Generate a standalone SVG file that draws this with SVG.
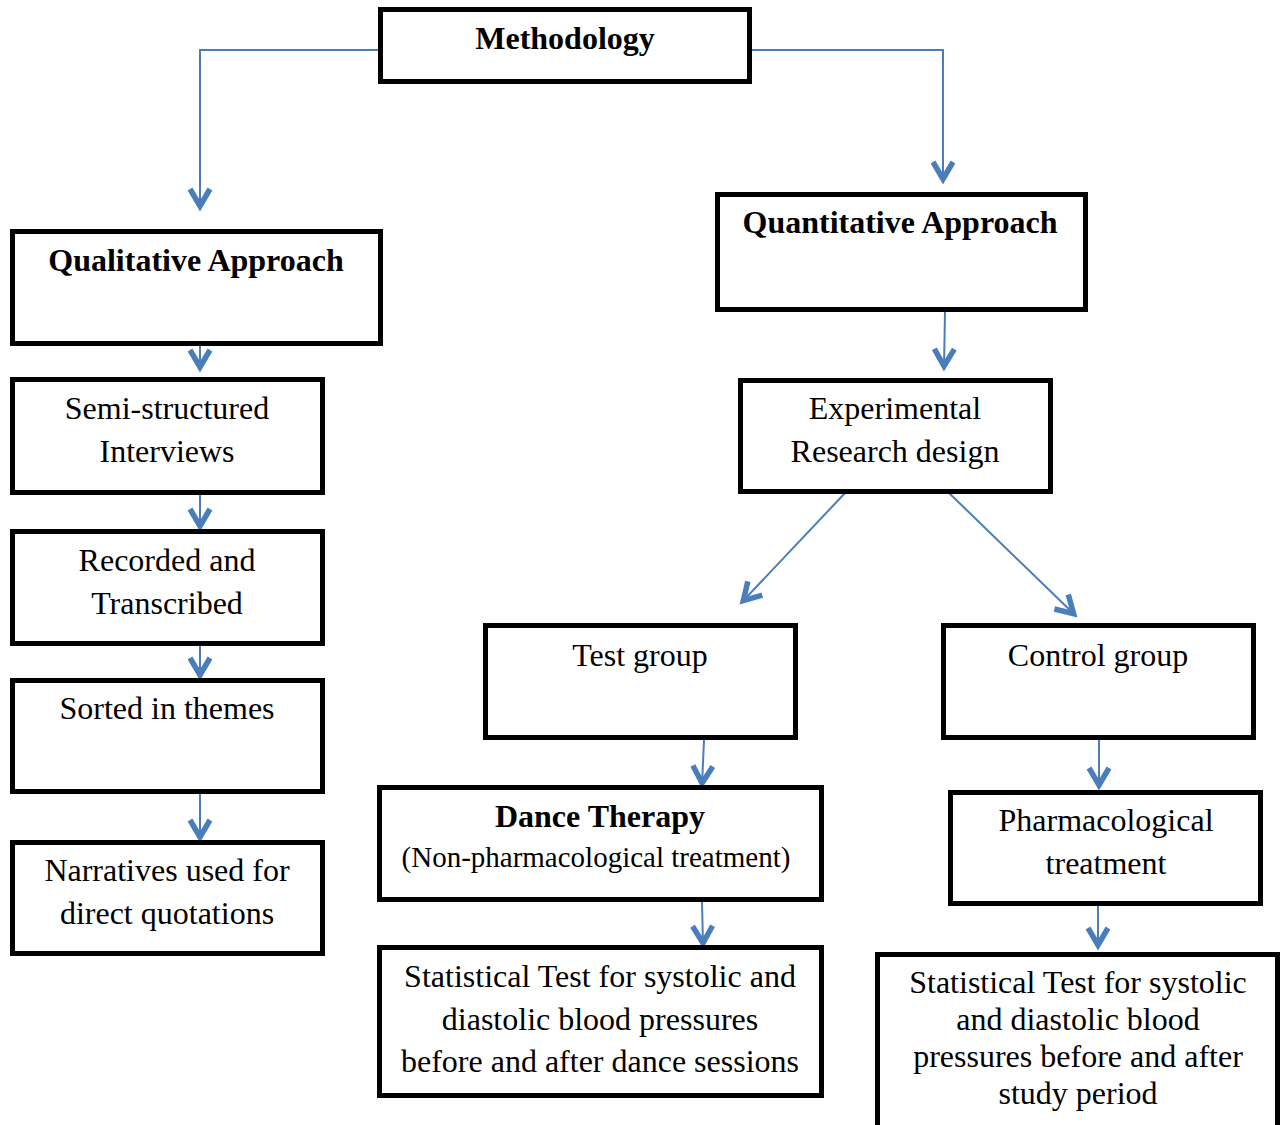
<svg xmlns="http://www.w3.org/2000/svg" width="1281" height="1125" viewBox="0 0 1281 1125">
<style>
.box{fill:#fff;stroke:#000;stroke-width:5}
.t{font-family:"Liberation Serif","Times New Roman",serif;font-size:32px;fill:#000;text-anchor:middle}
.b{font-weight:bold}
.s{font-size:29px}
.c{fill:none;stroke:#4a7ebb;stroke-width:2;marker-end:url(#arr)}
</style>
<defs>
<marker id="arr" markerUnits="userSpaceOnUse" viewBox="-26 -14 30 28" markerWidth="30" markerHeight="28" refX="0" refY="0" orient="auto">
<path d="M-19,-10 L-2,0 L-19,10" fill="none" stroke="#4a7ebb" stroke-width="5.5"/>
</marker>
</defs>
<rect width="1281" height="1125" fill="#fff"/>
<g id="connectors">
<polyline class="c" points="380,50 200,50 200,208"/>
<polyline class="c" points="750,50 943,50 943,181"/>
<line class="c" x1="200" y1="346" x2="200" y2="369"/>
<line class="c" x1="200" y1="495" x2="200" y2="528"/>
<line class="c" x1="200" y1="646" x2="200" y2="677"/>
<line class="c" x1="200" y1="794" x2="200" y2="839"/>
<line class="c" x1="945" y1="312" x2="944" y2="368"/>
<line class="c" x1="846" y1="492" x2="742" y2="602"/>
<line class="c" x1="948" y1="492" x2="1075" y2="615"/>
<line class="c" x1="704" y1="740" x2="702" y2="785"/>
<line class="c" x1="1099" y1="740" x2="1099" y2="787"/>
<line class="c" x1="702" y1="902" x2="703" y2="945"/>
<line class="c" x1="1098" y1="906" x2="1098" y2="947"/>
</g>
<g id="methodology">
<rect class="box" x="380.5" y="9.5" width="369" height="72"/>
<text class="t b" x="565" y="49">Methodology</text>
</g>
<g id="qualitative">
<rect class="box" x="12.5" y="231.5" width="368" height="112"/>
<text class="t b" x="196" y="271">Qualitative Approach</text>
</g>
<g id="quantitative">
<rect class="box" x="717.5" y="194.5" width="368" height="115"/>
<text class="t b" x="900" y="233">Quantitative Approach</text>
</g>
<g id="semi">
<rect class="box" x="12.5" y="379.5" width="310" height="113"/>
<text class="t" x="167" y="419">Semi-structured</text>
<text class="t" x="167" y="462">Interviews</text>
</g>
<g id="recorded">
<rect class="box" x="12.5" y="531.5" width="310" height="112"/>
<text class="t" x="167" y="571">Recorded and</text>
<text class="t" x="167" y="614">Transcribed</text>
</g>
<g id="sorted">
<rect class="box" x="12.5" y="680.5" width="310" height="111"/>
<text class="t" x="167" y="719">Sorted in themes</text>
</g>
<g id="narratives">
<rect class="box" x="12.5" y="842.5" width="310" height="111"/>
<text class="t" x="167" y="881">Narratives used for</text>
<text class="t" x="167" y="924">direct quotations</text>
</g>
<g id="experimental">
<rect class="box" x="740.5" y="380.5" width="310" height="111"/>
<text class="t" x="895" y="419">Experimental</text>
<text class="t" x="895" y="462">Research design</text>
</g>
<g id="test">
<rect class="box" x="485.5" y="625.5" width="310" height="112"/>
<text class="t" x="640" y="666">Test group</text>
</g>
<g id="control">
<rect class="box" x="943.5" y="625.5" width="310" height="112"/>
<text class="t" x="1098" y="666">Control group</text>
</g>
<g id="dance">
<rect class="box" x="379.5" y="787.5" width="442" height="112"/>
<text class="t b" x="600" y="827">Dance Therapy</text>
<text class="t s" x="596" y="867">(Non-pharmacological treatment)</text>
</g>
<g id="pharma">
<rect class="box" x="950.5" y="792.5" width="310" height="111"/>
<text class="t" x="1106" y="831">Pharmacological</text>
<text class="t" x="1106" y="874">treatment</text>
</g>
<g id="statleft">
<rect class="box" x="379.5" y="947.5" width="442" height="148"/>
<text class="t" x="600" y="987">Statistical Test for systolic and</text>
<text class="t" x="600" y="1030">diastolic blood pressures</text>
<text class="t" x="600" y="1072">before and after dance sessions</text>
</g>
<g id="statright">
<rect class="box" x="877.5" y="954.5" width="400" height="180"/>
<text class="t" x="1078" y="993">Statistical Test for systolic</text>
<text class="t" x="1078" y="1030">and diastolic blood</text>
<text class="t" x="1078" y="1067">pressures before and after</text>
<text class="t" x="1078" y="1104">study period</text>
</g>
</svg>
